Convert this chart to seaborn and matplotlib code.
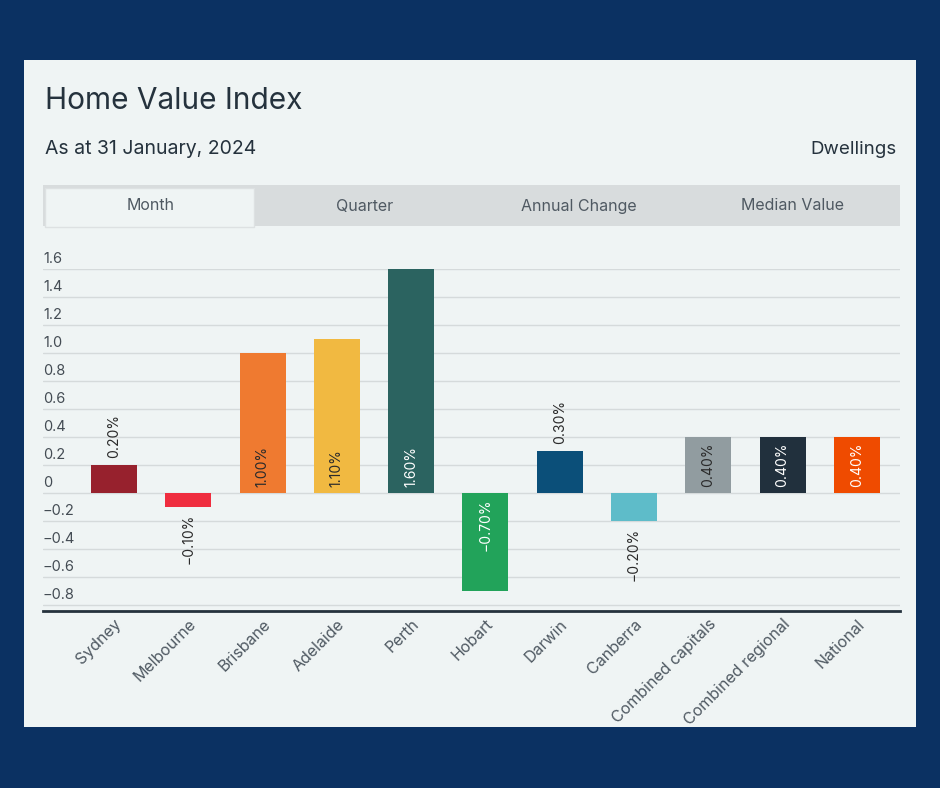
import matplotlib
matplotlib.use("Agg")
import matplotlib.pyplot as plt
import seaborn as sns
from matplotlib.patches import Rectangle

# chart data
cities = ["Sydney", "Melbourne", "Brisbane", "Adelaide", "Perth", "Hobart",
          "Darwin", "Canberra", "Combined capitals", "Combined regional", "National"]
month_change = [0.2, -0.1, 1.0, 1.1, 1.6, -0.7, 0.3, -0.2, 0.4, 0.4, 0.4]
bar_colors = ["#97212d", "#ef2d3f", "#ef7a30", "#f1b941", "#2b6360", "#22a35a",
              "#0b4f79", "#5ebcc9", "#919ca0", "#21303d", "#ef4b00"]
label_colors = ["#2b2b2b", "#2b2b2b", "#2b2b2b", "#2b2b2b", "#ffffff", "#ffffff",
                "#2b2b2b", "#2b2b2b", "#2b2b2b", "#ffffff", "#ffffff"]
y_ticks = [1.6, 1.4, 1.2, 1.0, 0.8, 0.6, 0.4, 0.2, 0, -0.2, -0.4, -0.6, -0.8]
tabs = ["Month", "Quarter", "Annual Change", "Median Value"]

sns.set_style("white")
plt.rcParams["font.family"] = ["Inter", "DejaVu Sans"]

W, H = 940, 788
fig = plt.figure(figsize=(W / 100, H / 100), dpi=100)
fig.patch.set_facecolor("#0b3162")


def fx(px):
    return px / W


def fy(py):
    return 1 - py / H


# card background
fig.patches.append(Rectangle((fx(24), fy(727)), fx(916) - fx(24), fy(60) - fy(727),
                             transform=fig.transFigure, facecolor="#eff4f4",
                             edgecolor="none", zorder=-3))

fig.text(fx(45), fy(101), "Home Value Index", fontsize=21.5, color="#25323d",
         va="center", ha="left")
fig.text(fx(45), fy(149), "As at 31 January, 2024", fontsize=14, color="#25323d",
         va="center", ha="left")
fig.text(fx(897), fy(149), "Dwellings", fontsize=13.5, color="#25323d",
         va="center", ha="right")

# tab strip
fig.patches.append(Rectangle((fx(43), fy(226)), fx(900) - fx(43), fy(185) - fy(226),
                             transform=fig.transFigure, facecolor="#d8dcdd",
                             edgecolor="none", zorder=-2))
fig.patches.append(Rectangle((fx(45), fy(227)), fx(254) - fx(45), fy(188) - fy(227),
                             transform=fig.transFigure, facecolor="#eff4f4",
                             edgecolor="#dde1e2", linewidth=1, zorder=-1))
tab_w = (900 - 43) / len(tabs)
for i, t in enumerate(tabs):
    fig.text(fx(43 + tab_w * (i + 0.5)), fy(206), t, fontsize=11.5, color="#4f5962",
             ha="center", va="center")

ax = fig.add_axes([fx(43), fy(611), fx(900) - fx(43), fy(269) - fy(611)])
ax.set_facecolor("none")
ax.set_zorder(5)

sns.barplot(x=cities, y=month_change, hue=cities, palette=bar_colors, legend=False,
            width=0.62, saturation=1, ax=ax, zorder=3, edgecolor="none")

ax.set_ylim(-0.843, 1.6)
ax.set_xlim(-0.955, len(cities) - 1 + 0.58)
ax.set_yticks(y_ticks)
ax.yaxis.grid(True, color="#d5dadb", linewidth=1, zorder=0)
ax.set_axisbelow(True)
ax.tick_params(axis="y", length=0, labelleft=False)
ax.tick_params(axis="x", length=0, pad=4)
for s in ["top", "left", "right"]:
    ax.spines[s].set_visible(False)
ax.spines["bottom"].set_color("#25323d")
ax.spines["bottom"].set_linewidth(2)

ytr = ax.get_yaxis_transform()
for v in y_ticks:
    txt = "0" if v == 0 else f"{v:.1f}".replace("-", "\u2212")
    ax.text(0, v + 0.02, txt, transform=ytr, ha="left", va="bottom",
            fontsize=10.5, color="#444c54")

ax.set_xticks(range(len(cities)))
ax.set_xticklabels(cities, rotation=45, ha="right", rotation_mode="anchor",
                   fontsize=11.5, color="#4f5962")

# value labels
for i, v in enumerate(month_change):
    txt = f"{v:.2f}%".replace("-", "\u2212")
    if abs(v) >= 0.35:
        y = 0.04 if v > 0 else -0.04
        ax.text(i, y, txt, rotation=90, ha="center",
                va="bottom" if v > 0 else "top", fontsize=10,
                color=label_colors[i], zorder=5)
    else:
        y = v + (0.05 if v > 0 else -0.05)
        ax.text(i, y, txt, rotation=90, ha="center",
                va="bottom" if v > 0 else "top", fontsize=10,
                color="#2b2b2b", zorder=5)

ax.set_xlabel("")
ax.set_ylabel("")

fig.savefig("out.png", dpi=100, facecolor=fig.get_facecolor())
